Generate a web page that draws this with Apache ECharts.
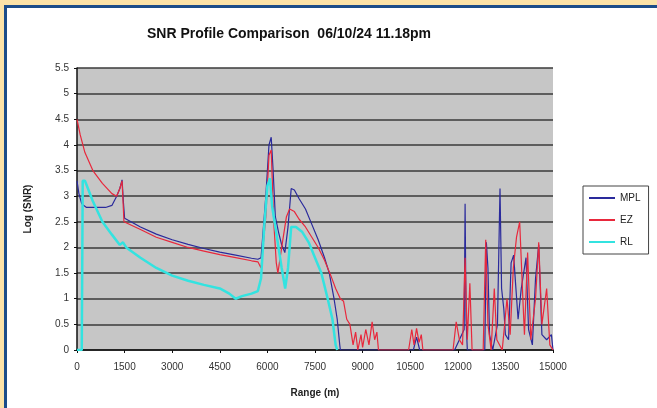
<!DOCTYPE html>
<html>
<head>
<meta charset="utf-8">
<script src="https://cdn.jsdelivr.net/npm/echarts@6/dist/echarts.min.js"></script>
<style>
  html, body { margin: 0; padding: 0; background: #fff; }
  #chart { width: 657px; height: 408px; }
</style>
</head>
<body>
<div id="chart"></div>
<script>
// range ticks (m) and log(SNR) ticks
const xTicks = [0, 1500, 3000, 4500, 6000, 7500, 9000, 10500, 12000, 13500, 15000];
const yTicks = [0, 0.5, 1, 1.5, 2, 2.5, 3, 3.5, 4, 4.5, 5, 5.5];

// MPL profile
const mplRange = [0, 60, 150, 300, 600, 900, 1100, 1250, 1350, 1420, 1460, 1500, 2000, 2500, 3000, 3500, 4000, 4500, 5000, 5500, 5700,
  5800, 5950, 6050, 6120, 6180, 6250, 6350, 6450, 6550, 6650, 6750, 6850, 7000, 7200, 7400, 7600, 7800, 7950, 8100, 8200, 8280, 8300,
  10600, 10700, 10800, 11900, 12200, 12230, 12260, 12300, 12850, 12900, 12950, 13000, 13100, 13250, 13330, 13380, 13450, 13500,
  13600, 13680, 13760, 13820, 13900, 14000, 14150, 14230, 14350, 14450, 14550, 14650, 14800, 14950, 15000];
const mplLog = [3.3, 3.05, 2.85, 2.78, 2.78, 2.78, 2.82, 3.0, 3.15, 3.32, 2.9, 2.57, 2.4, 2.26, 2.15, 2.06, 1.98, 1.91, 1.85, 1.79, 1.77,
  1.8, 3.0, 4.0, 4.15, 3.5, 2.6, 2.3, 2.05, 1.9, 2.4, 3.15, 3.12, 2.95, 2.75, 2.45, 2.15, 1.8, 1.5, 1.0, 0.6, 0.1, 0,
  0, 0.25, 0, 0, 0.4, 2.85, 0.6, 0, 0, 2.1, 1.6, 0.3, 0, 0.5, 3.15, 1.2, 0.8, 0.3,
  0.2, 1.7, 1.85, 1.3, 0.6, 1.2, 1.8, 0.4, 0.1, 1.4, 2.05, 0.3, 0.2, 0.3, 0];

// EZ profile
const ezRange = [0, 100, 250, 500, 800, 1100, 1250, 1350, 1420, 1450, 1480, 2000, 2500, 3000, 3500, 4000, 4500, 5000, 5500, 5700,
  5800, 5950, 6050, 6120, 6200, 6280, 6330, 6450, 6600, 6700, 6850, 7000, 7200, 7400, 7600, 7800, 8000, 8150, 8300, 8400, 8500,
  8600, 8700, 8780, 8850, 8950, 9000, 9100, 9200, 9300, 9380, 9450, 9500, 10450, 10550, 10620, 10700, 10780, 10850, 10900,
  11850, 11950, 12050, 12150, 12230, 12300, 12380, 12450, 12800, 12880, 12950, 13050, 13150, 13230, 13400, 13550, 13650,
  13750, 13850, 13950, 14050, 14100, 14200, 14300, 14450, 14550, 14650, 14800, 14900, 15000];
const ezLog = [4.5, 4.2, 3.85, 3.5, 3.25, 3.05, 3.0, 3.15, 3.3, 2.9, 2.5, 2.35, 2.2, 2.1, 2.0, 1.93, 1.86, 1.8, 1.74, 1.72,
  1.6, 2.6, 3.8, 3.9, 2.5, 1.7, 1.5, 2.0, 2.6, 2.75, 2.7, 2.55, 2.4, 2.2, 2.0, 1.75, 1.45, 1.2, 1.0, 0.95, 0.6,
  0.5, 0.1, 0.35, 0, 0.3, 0.05, 0.4, 0.1, 0.55, 0.2, 0.35, 0, 0, 0.4, 0.1, 0.42, 0.15, 0.3, 0,
  0, 0.55, 0.2, 0.1, 1.8, 0.2, 1.3, 0, 0, 2.15, 0.5, 0, 1.2, 0.2, 0, 1.0, 0.3,
  1.6, 2.2, 2.5, 1.0, 0.3, 1.9, 0.2, 1.0, 2.1, 0.5, 1.2, 0.1, 0];

// RL profile
const rlRange = [0, 150, 180, 250, 500, 800, 1100, 1350, 1450, 1550, 2000, 2500, 3000, 3500, 4000, 4500, 4800, 5000, 5200, 5500, 5700,
  5800, 5900, 6000, 6080, 6150, 6250, 6350, 6450, 6560, 6650, 6750, 6900, 7100, 7300, 7500, 7700, 7900, 8050, 8150, 8200];
const rlLog = [0, 0, 3.3, 3.3, 2.9, 2.5, 2.25, 2.05, 2.1, 2.0, 1.8, 1.6, 1.45, 1.35, 1.27, 1.2, 1.1, 1.0, 1.05, 1.1, 1.15,
  1.4, 2.4, 3.2, 3.35, 2.8, 2.4, 2.0, 1.6, 1.2, 1.6, 2.4, 2.4, 2.3, 2.1, 1.8, 1.5, 1.0, 0.6, 0.1, 0];

const zip = (xs, ys) => xs.map((x, i) => [x, ys[i]]);

const FONT = '"Liberation Sans", Arial, sans-serif';
const chart = echarts.init(document.getElementById('chart'));

chart.setOption({
  backgroundColor: '#fff',
  animation: false,
  title: {
    text: 'SNR Profile Comparison  06/10/24 11.18pm',
    left: 284, top: 22, textAlign: 'center',
    textStyle: { fontFamily: FONT, fontSize: 14, fontWeight: 'bold', color: '#111' }
  },
  graphic: [
    { type: 'rect', shape: { x: 0, y: 0, width: 657, height: 5 }, style: { fill: '#fbe2a8' }, silent: true },
    { type: 'rect', shape: { x: 0, y: 0, width: 4, height: 408 }, style: { fill: '#fbe2a8' }, silent: true },
    { type: 'rect', shape: { x: 4, y: 5, width: 653, height: 3 }, style: { fill: '#1b4c8a' }, silent: true },
    { type: 'rect', shape: { x: 4, y: 5, width: 3, height: 403 }, style: { fill: '#1b4c8a' }, silent: true }
  ],
  legend: {
    orient: 'vertical',
    left: 583, top: 186,
    itemWidth: 26, itemHeight: 2, itemGap: 12,
    padding: [7, 8, 7, 6],
    borderColor: '#444', borderWidth: 1,
    backgroundColor: '#fff',
    textStyle: { fontFamily: FONT, fontSize: 10, color: '#222' },
    data: [
      { name: 'MPL', icon: 'rect' },
      { name: 'EZ', icon: 'rect' },
      { name: 'RL', icon: 'rect' }
    ]
  },
  grid: { left: 77, right: 104, top: 68, bottom: 58, show: true, backgroundColor: '#c6c6c6', borderWidth: 0 },
  xAxis: {
    type: 'value', min: xTicks[0], max: xTicks[xTicks.length - 1], interval: 1500,
    name: 'Range (m)', nameLocation: 'middle', nameGap: 38,
    nameTextStyle: { fontFamily: FONT, fontSize: 10, fontWeight: 'bold', color: '#222' },
    axisLine: { lineStyle: { color: '#111', width: 1.5 } },
    axisTick: { show: true, length: 3, lineStyle: { color: '#111' } },
    axisLabel: { fontFamily: FONT, fontSize: 10, color: '#333', margin: 12, formatter: (v) => String(v) },
    splitLine: { show: false }
  },
  yAxis: {
    type: 'value', min: yTicks[0], max: yTicks[yTicks.length - 1], interval: 0.5,
    name: 'Log (SNR)', nameLocation: 'middle', nameGap: 44, nameRotate: 90,
    nameTextStyle: { fontFamily: FONT, fontSize: 10, fontWeight: 'bold', color: '#222' },
    axisLine: { show: true, lineStyle: { color: '#111', width: 1.5 } },
    axisTick: { show: true, length: 3, lineStyle: { color: '#111' } },
    axisLabel: { fontFamily: FONT, fontSize: 10, color: '#333', margin: 8 },
    splitLine: { show: true, lineStyle: { color: '#3a3a3a', width: 1.5 } }
  },
  series: [
    {
      name: 'MPL', type: 'line', data: zip(mplRange, mplLog), showSymbol: false, symbol: 'none',
      lineStyle: { color: '#2a2a9c', width: 1.2 }, itemStyle: { color: '#2a2a9c' }
    },
    {
      name: 'EZ', type: 'line', data: zip(ezRange, ezLog), showSymbol: false, symbol: 'none',
      lineStyle: { color: '#e8283c', width: 1.2 }, itemStyle: { color: '#e8283c' }
    },
    {
      name: 'RL', type: 'line', data: zip(rlRange, rlLog), showSymbol: false, symbol: 'none',
      lineStyle: { color: '#33e3e0', width: 2.5 }, itemStyle: { color: '#33e3e0' }
    }
  ]
});
</script>
</body>
</html>
